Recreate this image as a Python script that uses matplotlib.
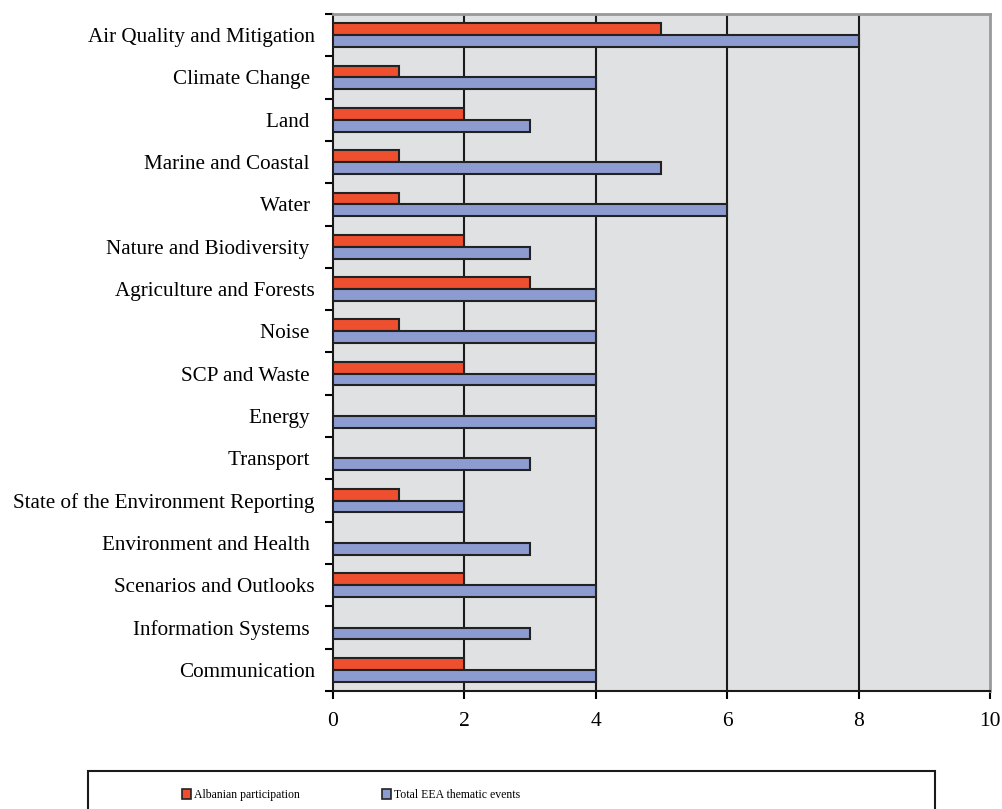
import numpy as np
import matplotlib
matplotlib.use("Agg")
import matplotlib.pyplot as plt
from matplotlib.patches import Patch, Rectangle

# EEA thematic events by topic
topics = ['Air Quality and Mitigation', 'Climate Change ', 'Land ', 'Marine and Coastal ',
          'Water ', 'Nature and Biodiversity ', 'Agriculture and Forests', 'Noise ',
          'SCP and Waste ', 'Energy ', 'Transport ', 'State of the Environment Reporting',
          'Environment and Health ', 'Scenarios and Outlooks', 'Information Systems ',
          'Communication']
albanian = [5, 1, 2, 1, 1, 2, 3, 1, 2, 0, 0, 1, 0, 2, 0, 2]
total_eea = [8, 4, 3, 5, 6, 3, 4, 4, 4, 4, 3, 2, 3, 4, 3, 4]

red = '#ee4f2e'
blue = '#8c9bd0'

plt.rcParams['font.family'] = 'Liberation Serif'

fig = plt.figure(figsize=(10.02, 8.09), dpi=100)
ax = fig.add_axes([0.3323, 0.1459, 0.6557, 0.8368])
ax.set_facecolor('#e0e1e3')

y = np.arange(len(topics))[::-1]
h = 0.28
ax.barh(y + h / 2, albanian, height=h, color=red, edgecolor='#222222', linewidth=1.5, zorder=3)
ax.barh(y - h / 2, total_eea, height=h, color=blue, edgecolor='#222222', linewidth=1.5, zorder=3)

ax.set_xlim(0, 10)
ax.set_ylim(-0.5, len(topics) - 0.5)
ax.set_xticks(range(0, 11, 2))
ax.tick_params(axis='x', labelsize=15.5, length=6, width=1.5, direction='out', pad=9)

# category labels between tick marks at band edges
ax.set_yticks(y)
ax.set_yticklabels(topics)
ax.tick_params(axis='y', which='major', length=0, labelsize=15.2, pad=13)
ax.set_yticks(np.arange(-0.5, len(topics), 1), minor=True)
ax.tick_params(axis='y', which='minor', length=6, width=1.5, direction='out')

for v in [2, 4, 6, 8]:
    ax.axvline(v, color='#1a1a1a', linewidth=1.5, zorder=1)

ax.spines['left'].set_color('#1a1a1a')
ax.spines['left'].set_linewidth(1.5)
ax.spines['bottom'].set_color('#1a1a1a')
ax.spines['bottom'].set_linewidth(1.5)
ax.spines['top'].set_color('#999999')
ax.spines['top'].set_linewidth(2)
ax.spines['right'].set_color('#999999')
ax.spines['right'].set_linewidth(2)

# legend box
fig.patches.append(Rectangle((0.0878, -0.02), 0.845, 0.067, transform=fig.transFigure,
                             facecolor='white', edgecolor='#1a1a1a', linewidth=1.5))
handles = [Patch(facecolor=red, edgecolor='#222222', linewidth=1.2, label='Albanian participation'),
           Patch(facecolor=blue, edgecolor='#222222', linewidth=1.2, label='Total EEA thematic events')]
fig.legend(handles=handles, loc='center left', bbox_to_anchor=(0.1816, 0.0175), ncol=2, frameon=False,
           fontsize=8.5, handlelength=0.75, handleheight=0.95, handletextpad=0.25, columnspacing=7.0,
           borderpad=0, borderaxespad=0)

fig.savefig('out.png', dpi=100)
